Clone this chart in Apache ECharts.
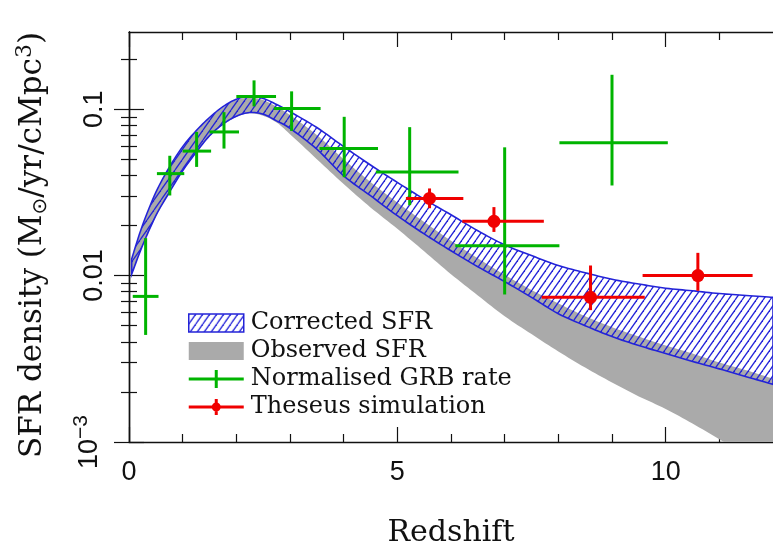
<!DOCTYPE html>
<html><head><meta charset="utf-8">
<script src="https://cdn.jsdelivr.net/npm/echarts@6/dist/echarts.min.js"></script>
<style>html,body{margin:0;padding:0;background:#fff}#c{width:773px;height:553px}</style>
</head><body><div id="c"></div>
<script>
// ---- data ----
const redshiftGrid = [0.05,0.25,0.5,0.75,1.0,1.25,1.5,1.75,2.0,2.25,2.5,2.75,3.0,3.5,4.0,4.5,5.0,5.5,6.0,6.5,7.0,7.5,8.0,8.5,9.0,9.5,10.0,10.5,11.0,11.5,12.0];
const correctedUpper = [0.0126,0.0200,0.0316,0.0447,0.0596,0.0741,0.0891,0.1035,0.1148,0.1197,0.1161,0.1067,0.0966,0.0776,0.0596,0.0462,0.0363,0.0288,0.0232,0.0186,0.0153,0.0132,0.0115,0.0104,0.0095,0.0089,0.0084,0.0081,0.0078,0.0076,0.0074];
const correctedLower = [0.0102,0.0151,0.0229,0.0316,0.0427,0.0550,0.0692,0.0813,0.0908,0.0955,0.0933,0.0851,0.0767,0.0575,0.0398,0.0302,0.0229,0.0178,0.0141,0.0113,0.0092,0.0074,0.0059,0.0050,0.0043,0.0038,0.0034,0.00305,0.00275,0.00247,0.00222];
const observedUpper = [0.01245,0.0197,0.0313,0.0442,0.0589,0.0733,0.0881,0.1023,0.1135,0.1175,0.1135,0.1035,0.0923,0.0700,0.0500,0.0365,0.0275,0.0210,0.0162,0.0127,0.0101,0.0082,0.0068,0.0057,0.0049,0.0043,0.0038,0.0034,0.0030,0.0027,0.0024];
const observedLower = [0.0101,0.0150,0.0226,0.0313,0.0422,0.0543,0.0684,0.0804,0.0897,0.0944,0.0912,0.0832,0.0708,0.0501,0.0355,0.0257,0.0191,0.0140,0.0102,0.0076,0.0057,0.00445,0.0035,0.0028,0.00228,0.00188,0.00158,0.00129,0.00104,0.00083,0.00067];

const grbZ      = [0.31,0.76,1.26,1.77,2.33,3.03,4.01,5.23,7.00,9.00];
const grbZLo    = [0.07,0.52,1.00,1.50,2.00,2.70,3.55,4.60,6.08,8.02];
const grbZHi    = [0.55,1.03,1.53,2.05,2.74,3.57,4.64,6.14,8.02,10.04];
const grbRate   = [0.0075,0.041,0.056,0.073,0.119,0.101,0.058,0.042,0.0151,0.0629];
const grbRateLo = [0.0044,0.0303,0.045,0.058,0.104,0.074,0.039,0.0265,0.0077,0.0348];
const grbRateHi = [0.0168,0.0525,0.073,0.096,0.149,0.128,0.090,0.078,0.059,0.161];

const thZ      = [5.60,6.80,8.60,10.60];
const thZLo    = [5.16,6.21,7.69,9.57];
const thZHi    = [6.23,7.73,9.61,11.62];
const thRate   = [0.0291,0.0212,0.0074,0.0100];
const thRateLo = [0.0254,0.0183,0.0062,0.0081];
const thRateHi = [0.0334,0.0258,0.0115,0.0137];

const xMajorTicks = [0,5,10];
const xMinorTicks = [1,2,3,4,6,7,8,9,11];
const yMajorTicks = [0.001,0.01,0.1];
const yMinorTicks = [0.002,0.003,0.004,0.005,0.006,0.007,0.008,0.009,0.02,0.03,0.04,0.05,0.06,0.07,0.08,0.09,0.2];
const xMin = 0, xMax = 12, yMin = 0.001, yMax = 0.291;

// ---- helpers ----
const L = Math.log10;
const BLUE = '#2323d8', GREEN = '#00b400', RED = '#f00000', GREY = '#aaaaaa', INK = '#111';
const SERIF = 'DejaVu Serif';

function hatchCanvas() {
  const w = 7, h = 10;
  const c = document.createElement('canvas'); c.width = w; c.height = h;
  const g = c.getContext('2d');
  g.strokeStyle = BLUE; g.lineWidth = 1.3;
  for (const dx of [-w, 0, w]) { g.beginPath(); g.moveTo(dx, h); g.lineTo(dx + w, 0); g.stroke(); }
  return c;
}
const hatch = { image: hatchCanvas(), repeat: 'repeat' };

// Catmull-Rom smoothing of a pixel polyline (drawing only)
function smoothPts(p) {
  const out = [], n = p.length, S = 8;
  for (let i = 0; i < n - 1; i++) {
    const p0 = p[Math.max(i - 1, 0)], p1 = p[i], p2 = p[i + 1], p3 = p[Math.min(i + 2, n - 1)];
    for (let s = 0; s < S; s++) {
      const t = s / S, t2 = t * t, t3 = t2 * t;
      out.push([0, 1].map(k => 0.5 * ((2 * p1[k]) + (-p0[k] + p2[k]) * t + (2 * p0[k] - 5 * p1[k] + 4 * p2[k] - p3[k]) * t2 + (-p0[k] + 3 * p1[k] - 3 * p2[k] + p3[k]) * t3)));
    }
  }
  out.push(p[n - 1]);
  return out;
}

function bandRender(lower, upper, style) {
  return function (params, api) {
    if (params.dataIndex !== 0) return null;
    const up = redshiftGrid.map((z, i) => api.coord([z, L(upper[i])]));
    const lo = redshiftGrid.map((z, i) => api.coord([z, L(lower[i])]));
    const pts = smoothPts(up).concat(smoothPts(lo).reverse());
    return { type: 'polygon', shape: { points: pts }, style: style };
  };
}
function bandData(lower, upper) {
  return redshiftGrid.map((z, i) => [z, L(lower[i]), L(upper[i])]);
}

function errData(z, zlo, zhi, v, vlo, vhi) {
  return z.map((x, i) => [x, L(v[i]), zlo[i], zhi[i], L(vlo[i]), L(vhi[i])]);
}
function errRender(color, dot) {
  return function (params, api) {
    const x = api.value(0), y = api.value(1);
    const c = api.coord([x, y]);
    const l = api.coord([api.value(2), y]), r = api.coord([api.value(3), y]);
    const b = api.coord([x, api.value(4)]), t = api.coord([x, api.value(5)]);
    const st = { stroke: color, lineWidth: 3, fill: null };
    const ch = [
      { type: 'line', shape: { x1: l[0], y1: l[1], x2: r[0], y2: r[1] }, style: st },
      { type: 'line', shape: { x1: b[0], y1: b[1], x2: t[0], y2: t[1] }, style: st }
    ];
    if (dot) ch.push({ type: 'circle', shape: { cx: c[0], cy: c[1], r: 6.5 }, style: { fill: color } });
    return { type: 'group', children: ch };
  };
}

const tickFont = { fontFamily: 'Liberation Sans', fontSize: 27, color: INK };
function yLabel(v) {
  const lv = Math.round(v);
  if (lv === -1) return '0.1';
  if (lv === -2) return '0.01';
  return '10{sup|−3}';
}

const axisLineStyle = { show: true, lineStyle: { color: INK, width: 1.4 } };
function xAx(pos, ticks, len, line, labels) {
  return {
    type: 'value', position: pos, min: xMin, max: xMax, gridIndex: 0,
    splitLine: { show: false },
    axisLine: line ? axisLineStyle : { show: false },
    axisTick: { show: true, inside: true, length: len, customValues: ticks, lineStyle: { color: INK, width: 1.2 } },
    axisLabel: labels ? Object.assign({ show: true, margin: 17, customValues: xMajorTicks }, tickFont) : { show: false }
  };
}
function yAx(pos, ticks, len, line, labels) {
  return {
    type: 'value', position: pos, min: L(yMin), max: L(yMax), gridIndex: 0,
    splitLine: { show: false },
    axisLine: line ? axisLineStyle : { show: false },
    axisTick: { show: true, inside: true, length: len, customValues: ticks.map(L), lineStyle: { color: INK, width: 1.2 } },
    axisLabel: labels ? Object.assign({
      show: true, rotate: 90, margin: 21, customValues: yMajorTicks.map(L), formatter: yLabel,
      rich: { sup: { fontFamily: 'Liberation Sans', fontSize: 21, color: INK, verticalAlign: 'top', padding: [0, 0, 16, 0] } }
    }, tickFont) : { show: false }
  };
}

const xAxes = [
  Object.assign(xAx('bottom', xMajorTicks, 15, true, true), {
    name: 'Redshift', nameLocation: 'middle', nameGap: 76,
    nameTextStyle: { fontFamily: SERIF, fontSize: 30, color: INK }
  }),
  xAx('bottom', xMinorTicks, 8, false, false),
  xAx('top', xMajorTicks, 15, true, false),
  xAx('top', xMinorTicks, 8, false, false)
];
const yAxes = [
  Object.assign(yAx('left', yMajorTicks, 15, true, true), {
    name: 'SFR density (M{sub|⊙}/yr/cMpc{sup|3})', nameLocation: 'middle', nameRotate: 90, nameGap: 78,
    nameTextStyle: {
      fontFamily: SERIF, fontSize: 31, color: INK, padding: [0, 16, 0, 0],
      rich: {
        sub: { fontFamily: 'DejaVu Sans', fontSize: 20, color: INK, verticalAlign: 'bottom', padding: [10, 0, 0, 0] },
        sup: { fontFamily: SERIF, fontSize: 22, color: INK, verticalAlign: 'top', padding: [0, 0, 15, 0] }
      }
    }
  }),
  yAx('left', yMinorTicks, 8, false, false),
  yAx('right', yMajorTicks, 15, true, false),
  yAx('right', yMinorTicks, 8, false, false)
];

const chart = echarts.init(document.getElementById('c'), null, { renderer: 'canvas' });
chart.setOption({
  animation: false,
  backgroundColor: '#fff',
  grid: { left: 129, top: 32, width: 649, height: 414, containLabel: false },
  xAxis: xAxes,
  yAxis: yAxes,
  legend: {
    orient: 'vertical', left: 183, top: 306,
    itemWidth: 55, itemHeight: 18, itemGap: 4,
    selectedMode: false,
    textStyle: { fontFamily: SERIF, fontSize: 24, color: INK, lineHeight: 18, padding: [0, 0, 0, 2] },
    data: [
      { name: 'Corrected SFR', icon: 'rect', itemStyle: { color: hatch, borderColor: BLUE, borderWidth: 1.5 } },
      { name: 'Observed SFR', icon: 'rect', itemStyle: { color: GREY, borderWidth: 0 } },
      { name: 'Normalised GRB rate', icon: 'path://M0,7.5h55v3h-55z M26,0h3v18h-3z', itemStyle: { color: GREEN, borderWidth: 0 } },
      { name: 'Theseus simulation', icon: 'path://M0,7.5h55v3h-55z M26,1h3v16h-3z M23,9a4.5,4.5 0 1,1 9,0a4.5,4.5 0 1,1 -9,0z', itemStyle: { color: RED, borderWidth: 0 } }
    ]
  },
  series: [
    {
      name: 'Observed SFR', type: 'custom', clip: true, xAxisIndex: 0, yAxisIndex: 0,
      itemStyle: { color: GREY },
      data: bandData(observedLower, observedUpper),
      renderItem: bandRender(observedLower, observedUpper, { fill: GREY, stroke: null })
    },
    {
      name: 'Corrected SFR', type: 'custom', clip: true, xAxisIndex: 0, yAxisIndex: 0,
      itemStyle: { color: hatch, borderColor: BLUE, borderWidth: 1.5 },
      data: bandData(correctedLower, correctedUpper),
      renderItem: bandRender(correctedLower, correctedUpper, { fill: hatch, stroke: BLUE, lineWidth: 1.6 })
    },
    {
      name: 'Normalised GRB rate', type: 'custom', clip: true, xAxisIndex: 0, yAxisIndex: 0,
      itemStyle: { color: GREEN },
      data: errData(grbZ, grbZLo, grbZHi, grbRate, grbRateLo, grbRateHi),
      renderItem: errRender(GREEN, false)
    },
    {
      name: 'Theseus simulation', type: 'custom', clip: true, xAxisIndex: 0, yAxisIndex: 0,
      itemStyle: { color: RED },
      data: errData(thZ, thZLo, thZHi, thRate, thRateLo, thRateHi),
      renderItem: errRender(RED, true)
    }
  ]
});
</script></body></html>
